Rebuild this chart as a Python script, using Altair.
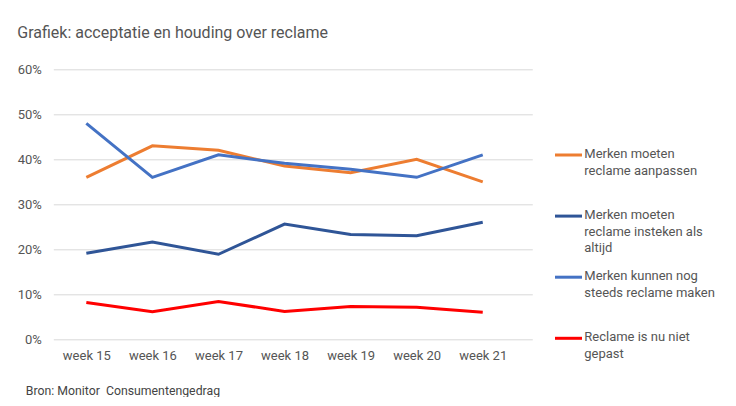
import json
import altair as alt
import pandas as pd

weeks = ["week 15", "week 16", "week 17", "week 18", "week 19", "week 20", "week 21"]
week_nums = [15, 16, 17, 18, 19, 20, 21]

series = [
    "Merken moeten reclame aanpassen",
    "Merken moeten reclame insteken als altijd",
    "Merken kunnen nog steeds reclame maken",
    "Reclame is nu niet gepast",
]
legend_labels = [
    "Merken moeten|reclame aanpassen",
    "Merken moeten|reclame insteken als|altijd",
    "Merken kunnen nog|steeds reclame maken",
    "Reclame is nu niet|gepast",
]
colors = ["#ED7D31", "#2F5597", "#4472C4", "#FF0000"]

aanpassen = [36.0, 43.0, 42.0, 38.5, 37.0, 40.0, 35.0]
insteken = [19.1, 21.6, 18.9, 25.6, 23.3, 23.0, 26.0]
kunnen = [48.0, 36.0, 41.0, 39.1, 37.8, 36.0, 41.0]
niet_gepast = [8.2, 6.1, 8.4, 6.2, 7.3, 7.1, 6.0]

y_ticks = [0, 10, 20, 30, 40, 50, 60]

rows = []
for name, vals in zip(series, [aanpassen, insteken, kunnen, niet_gepast]):
    for w, v in zip(week_nums, vals):
        rows.append({"series": name, "week": w, "value": v})
df = pd.DataFrame(rows)
leg = pd.DataFrame({"series": series, "label": legend_labels, "idx": list(range(len(series)))})

color = alt.Color("series:N", scale=alt.Scale(domain=series, range=colors), legend=None)

label_expr = json.dumps(weeks) + "[datum.value - " + str(week_nums[0]) + "]"

lines = alt.Chart(df).mark_line(strokeWidth=3).encode(
    x=alt.X(
        "week:Q",
        scale=alt.Scale(domain=[14.5, 21.75], nice=False, zero=False),
        axis=alt.Axis(
            values=week_nums,
            labelExpr=label_expr,
            title="Bron: Monitor\u00a0 Consumentengedrag",
            grid=False, domain=False, ticks=False,
            labelPadding=10, labelFontSize=13, labelColor="#555",
            labelFlush=False, labelOverlap=False,
            titleAnchor="start", titleAlign="left", titleX=-28, titleY=51,
            titleBaseline="middle", titleFontSize=12.3, titleFontWeight="normal",
            titleColor="#444",
        ),
    ),
    y=alt.Y(
        "value:Q",
        scale=alt.Scale(domain=[0, 60], nice=False),
        axis=alt.Axis(
            values=y_ticks,
            labelExpr="datum.value + '%'",
            title=None, domain=False, ticks=False,
            labelPadding=12, labelFontSize=13, labelColor="#555",
            gridColor="#d9d9d9", gridWidth=1, labelFlush=False,
        ),
    ),
    color=color,
)

leg_y = alt.Y("idx:Q", scale=alt.Scale(domain=[0, 3], range=[85.7, 269], nice=False, zero=False), axis=None)

leg_rule = alt.Chart(leg).mark_rule(strokeWidth=3).encode(
    x=alt.value(501.7), x2=alt.value(528.7), y=leg_y, color=color
)
leg_text = alt.Chart(leg).mark_text(
    align="left", baseline="top", dy=-7, fontSize=13, lineBreak="|",
    lineHeight=16.7, color="#555", font="Roboto"
).encode(x=alt.value(531), y=leg_y, text="label:N")

legend_layer = alt.layer(leg_rule, leg_text)

chart = alt.layer(lines, legend_layer).resolve_scale(y="independent").properties(
    width=479,
    height=270,
    autosize=alt.AutoSizeParams(type="none"),
    padding={"left": 45.3, "top": 61.3, "right": 195, "bottom": 58},
    title=alt.TitleParams(
        text="Grafiek: acceptatie en houding over reclame",
        anchor="start", frame="group", dx=-36, dy=-18, fontSize=16,
        fontWeight="normal", color="#555", font="Roboto",
    ),
).configure(font="Roboto", background="white").configure_view(stroke=None)

chart.save("out.html", embed_options={"renderer": "svg", "actions": False})
